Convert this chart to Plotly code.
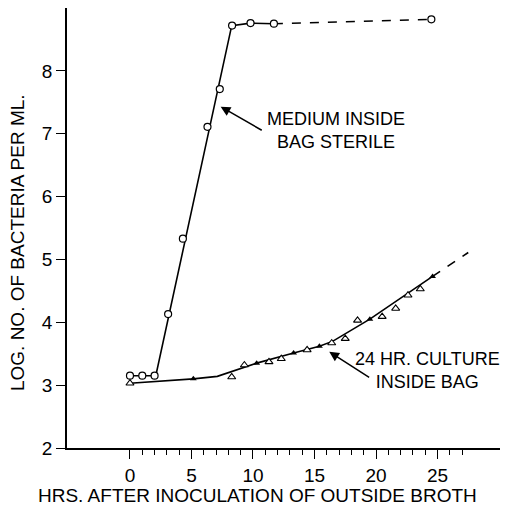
import plotly.graph_objects as go

# medium inside bag sterile (open circles)
sterile_hrs = [0, 1, 2, 3.1, 4.3, 6.3, 7.3, 8.3, 9.8, 11.7, 24.5]
sterile_log = [3.15, 3.15, 3.15, 4.13, 5.33, 7.11, 7.71, 8.72, 8.76, 8.75, 8.82]
sterile_fit_hrs = [0, 2.1, 8.27, 9.8, 11.7]
sterile_fit_log = [3.15, 3.15, 8.72, 8.76, 8.75]
sterile_ext_hrs = [11.7, 24.5]
sterile_ext_log = [8.75, 8.82]

# 24 hr culture inside bag (open and filled triangles)
culture_open_hrs = [0, 8.27, 9.3, 11.3, 12.3, 14.4, 16.4, 17.5, 18.5, 20.5, 21.6, 22.6, 23.6]
culture_open_log = [3.03, 3.13, 3.32, 3.37, 3.42, 3.56, 3.67, 3.74, 4.03, 4.09, 4.22, 4.43, 4.53]
culture_filled_hrs = [5.15, 10.3, 13.3, 15.4, 19.5, 24.6]
culture_filled_log = [3.10, 3.35, 3.51, 3.62, 4.05, 4.73]
culture_fit_hrs = [0, 5.15, 7.1, 10.3, 13.3, 15.4, 16.5, 17.5, 18.5, 19.5, 24.6]
culture_fit_log = [3.03, 3.10, 3.14, 3.35, 3.51, 3.62, 3.70, 3.82, 3.94, 4.05, 4.73]
culture_ext_hrs = [24.6, 27.5]
culture_ext_log = [4.73, 5.11]

x_major = [0, 5, 10, 15, 20, 25]
x_labels = ['0', '5', '10', '15', '20', '25']
x_minor = [h for h in range(0, 28) if h % 5 != 0]
y_ticks = [2, 3, 4, 5, 6, 7, 8]

FONT = 'Liberation Sans, Arial, sans-serif'
line = dict(color='black', width=1.6)

fig = go.Figure()
fig.add_trace(go.Scatter(x=sterile_fit_hrs, y=sterile_fit_log, mode='lines', line=line))
fig.add_trace(go.Scatter(x=sterile_ext_hrs, y=sterile_ext_log, mode='lines', line=dict(line, dash='dash')))
fig.add_trace(go.Scatter(x=culture_fit_hrs, y=culture_fit_log, mode='lines', line=line))
fig.add_trace(go.Scatter(x=culture_ext_hrs, y=culture_ext_log, mode='lines', line=dict(line, dash='dash')))
fig.add_trace(go.Scatter(
    x=sterile_hrs, y=sterile_log, mode='markers',
    marker=dict(symbol='circle', size=7, color='white', line=dict(color='black', width=1.2)),
))
fig.add_trace(go.Scatter(
    x=culture_open_hrs, y=culture_open_log, mode='markers',
    marker=dict(symbol='triangle-up', size=7, color='white', line=dict(color='black', width=1.1)),
))
fig.add_trace(go.Scatter(
    x=culture_filled_hrs, y=culture_filled_log, mode='markers',
    marker=dict(symbol='triangle-up', size=6, color='black'),
))

fig.update_layout(
    width=518, height=511,
    margin=dict(l=67, r=18, t=8, b=63),
    paper_bgcolor='white', plot_bgcolor='white',
    showlegend=False,
    font=dict(family=FONT, size=19, color='black'),
    xaxis=dict(
        range=[-5.12, 30.08], showgrid=False, zeroline=False,
        showline=True, linecolor='black', linewidth=1.5,
        tickmode='array', tickvals=x_major, ticktext=x_labels,
        ticks='outside', ticklen=9, tickwidth=1.3, tickcolor='black',
        minor=dict(tickmode='array', tickvals=x_minor, ticks='outside', ticklen=5,
                   tickwidth=1.1, tickcolor='black', showgrid=False),
    ),
    yaxis=dict(
        range=[2, 9.0], showgrid=False, zeroline=False,
        showline=True, linecolor='black', linewidth=1.5,
        tickmode='array', tickvals=y_ticks,
        ticks='outside', ticklen=9, tickwidth=1.3, tickcolor='black',
    ),
)

fig.add_annotation(
    text='HRS. AFTER INOCULATION OF OUTSIDE BROTH', xref='paper', yref='paper',
    x=0.441, y=-0.107, showarrow=False, font=dict(size=19), xanchor='center', yanchor='middle',
)
fig.add_annotation(
    text='LOG. NO. OF BACTERIA PER ML.', xref='paper', yref='paper',
    x=-0.113, y=0.466, showarrow=False, textangle=-90, font=dict(size=19),
    xanchor='center', yanchor='middle',
)
fig.add_annotation(
    text='MEDIUM INSIDE<br>BAG STERILE', x=16.75, y=7.05, showarrow=False,
    font=dict(size=18), align='center',
)
fig.add_annotation(
    text='24 HR. CULTURE<br>INSIDE BAG', x=24.15, y=3.23, showarrow=False,
    font=dict(size=18), align='center',
)
fig.add_annotation(
    text='', x=7.37, y=7.43, ax=42.6, ay=24.4, showarrow=True,
    arrowhead=2, arrowsize=1.3, arrowwidth=1.5, arrowcolor='black',
)
fig.add_annotation(
    text='', x=16.2, y=3.53, ax=41.4, ay=26.6, showarrow=True,
    arrowhead=2, arrowsize=1.3, arrowwidth=1.5, arrowcolor='black',
)

# page has a default 8px body margin, drop it so the figure sits at 0,0
fig.write_html(
    'out.html',
    config={'displayModeBar': False},
    post_script="document.body.style.margin='0';",
)
